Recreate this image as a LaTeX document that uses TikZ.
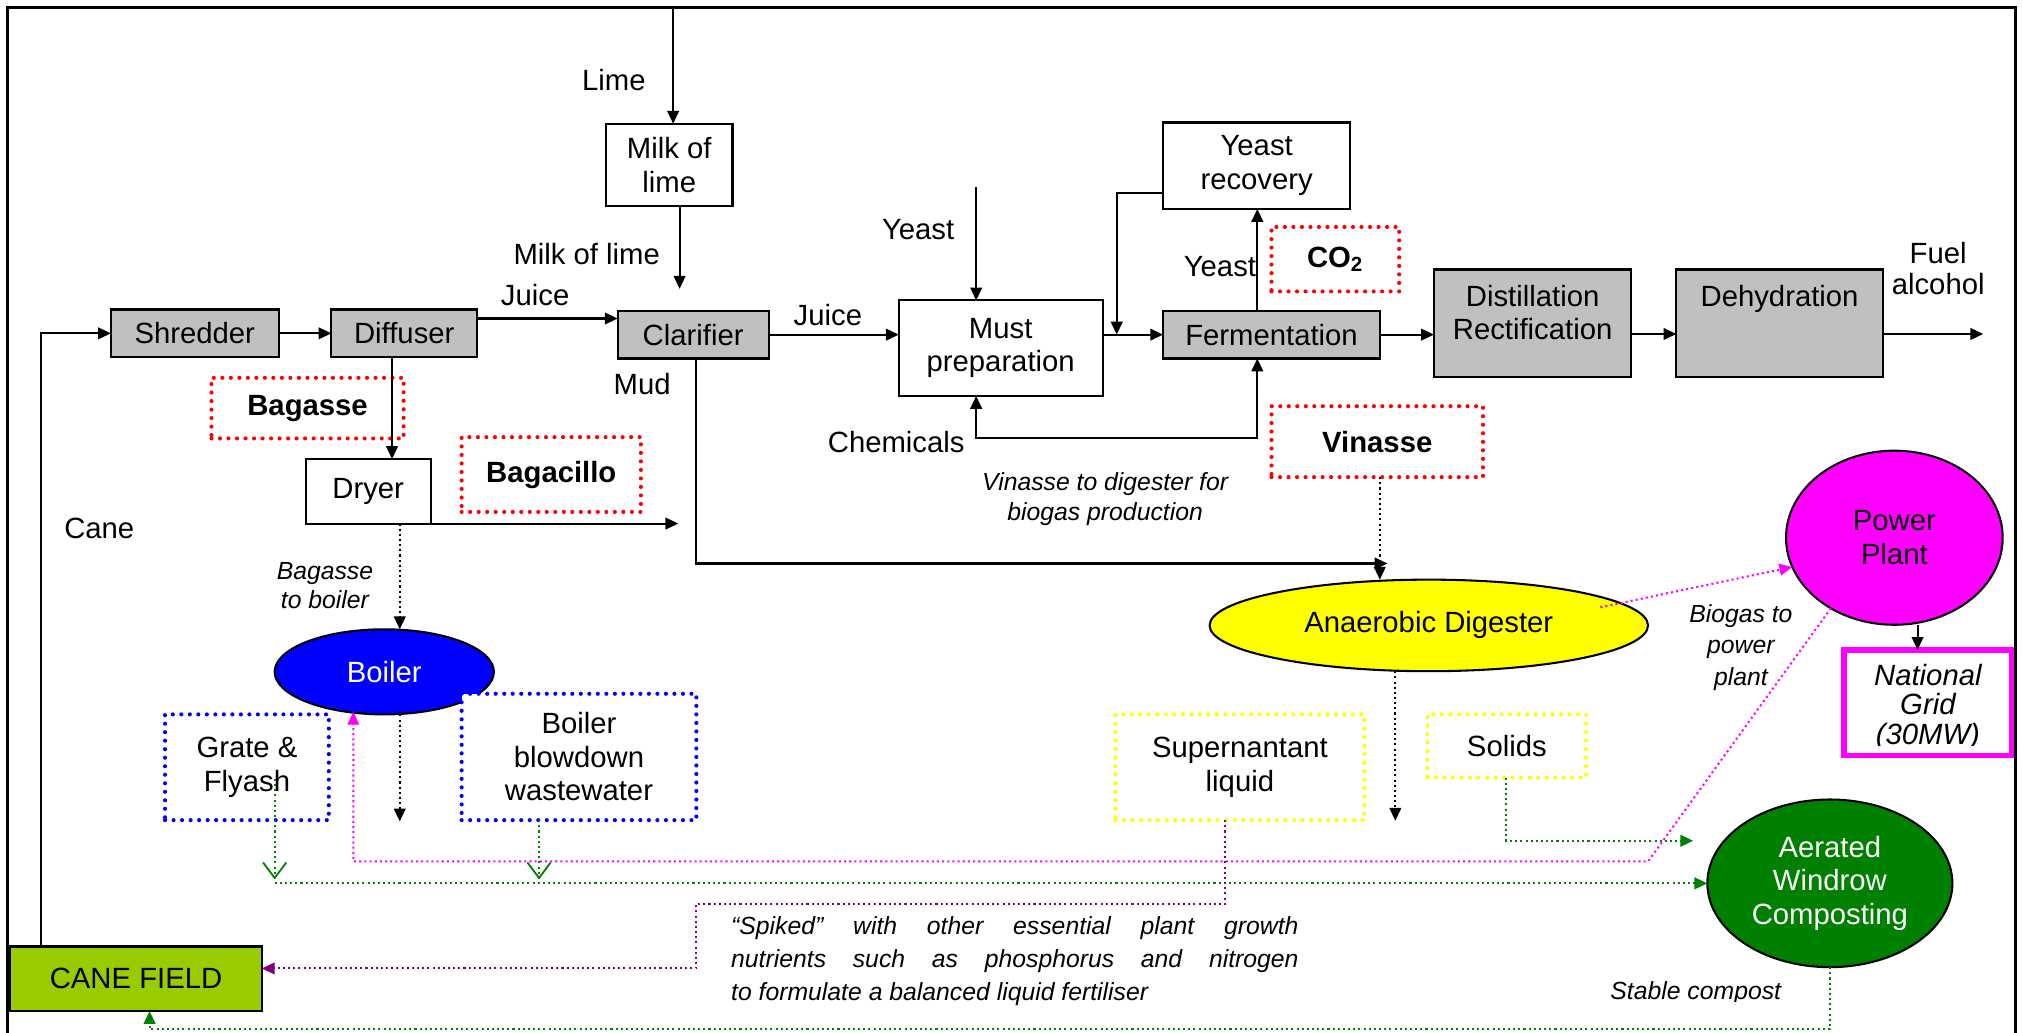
\documentclass[tikz,border=0pt]{standalone}
\usepackage{fontspec}
\setmainfont{Liberation Sans}
\usetikzlibrary{arrows.meta,shapes.geometric,calc}
\definecolor{boxgray}{HTML}{C0C0C0}
\definecolor{dkgreen}{HTML}{008000}
\definecolor{canegreen}{HTML}{99CC00}
\definecolor{magent}{HTML}{FF00FF}
\definecolor{purp}{HTML}{800080}
\definecolor{yell}{HTML}{FFFF00}
\definecolor{blu}{HTML}{0000FF}
\definecolor{rd}{HTML}{FF0000}
\begin{document}
\begin{tikzpicture}[x=0.5pt,y=-0.5pt,
  font=\fontsize{11.35}{13}\selectfont,
  every node/.style={inner sep=0pt, outer sep=0pt},
  box/.style={draw, line width=0.8pt, fill=white, align=center},
  gbox/.style={box, fill=boxgray},
  dotbox/.style={line width=1.6pt, dash pattern=on 0pt off 3.3pt, line cap=round, align=center},
  redbox/.style={dotbox, draw=rd, font=\fontsize{11.35}{13}\selectfont\bfseries},
  bluebox/.style={dotbox, draw=blu},
  yelbox/.style={dotbox, draw=yell},
  oval/.style={ellipse, draw, line width=0.8pt, align=center},
  tip/.style={-{Triangle[length=5pt,width=4.5pt]}},
  arr/.style={line width=0.8pt, tip},
  fine/.style={line width=0.8pt, dash pattern=on 0.8pt off 1.2pt},
  dotarr/.style={fine, tip},
  itl/.style={font=\fontsize{9.6}{11.5}\selectfont\itshape, align=center},
  lbl/.style={align=center}
]
\useasboundingbox (0,0) rectangle (1568,801);
\draw[line width=1pt] (6,830) -- (6,6) -- (1563,6) -- (1563,830);

% ---- process boxes
\node[box, minimum width=49pt, minimum height=32pt] (milk) at (519,128) {Milk of\\lime};
\node[gbox, minimum width=65pt, minimum height=18.5pt] (shred) at (151,258.5) {Shredder};
\node[gbox, minimum width=56.5pt, minimum height=18.5pt] (diff) at (313.5,258.5) {Diffuser};
\node[gbox, minimum width=58.5pt, minimum height=18.5pt] (clar) at (537.5,259.5) {Clarifier};
\node[box, minimum width=79pt, minimum height=37pt] (must) at (776,270) {Must\\preparation};
\node[box, minimum width=72.5pt, minimum height=33.5pt] (yrec) at (974.5,128.5) {Yeast\\recovery};
\node[gbox, minimum width=84pt, minimum height=18.5pt] (ferm) at (986,259.5) {Fermentation};
\node[gbox, minimum width=76.5pt, minimum height=41.5pt] (dist) at (1188.5,250.5) {};
\node[lbl, anchor=north] (distt) at ([yshift=-6pt]dist.north) {Distillation\\Rectification};
\node[gbox, minimum width=80pt, minimum height=41.5pt] (dehy) at (1380,250.5) {};
\node[lbl, anchor=north] (dehyt) at ([yshift=-6pt]dehy.north) {Dehydration};
\node[box, minimum width=48.5pt, minimum height=25pt] (dryer) at (285.5,381) {Dryer};

% ---- red dotted labels
\node[redbox, minimum width=74.5pt, minimum height=23.5pt] (bagasse) at (238.5,316.5) {Bagasse};
\node[redbox, minimum width=69.5pt, minimum height=29pt] (bagacillo) at (427.5,368) {Bagacillo};
\node[redbox, minimum width=49.5pt, minimum height=25pt] (co2) at (1035.5,201) {CO\textsubscript{2}};
\node[redbox, minimum width=82pt, minimum height=27.5pt] (vinasse) at (1068,342.5) {Vinasse};

% ---- ovals
\node[oval, fill=yell, minimum width=170pt, minimum height=35.5pt] (dig) at (1108,485) {Anaerobic Digester};
\node[oval, fill=blu, text=white, minimum width=85pt, minimum height=33pt] (boiler) at (298,521) {Boiler};
\node[oval, fill=magent, minimum width=84pt, minimum height=67.5pt] (power) at (1469,417) {Power\\Plant};
\node[oval, fill=dkgreen, text=white, minimum width=95pt, minimum height=65pt] (comp) at (1419,685) {Aerated\\Windrow\\Composting};

% ---- residue boxes
\node[bluebox, minimum width=63.5pt, minimum height=41pt] (grate) at (191.5,595) {Grate \&\\Flyash};
\node[bluebox, fill=white, minimum width=91pt, minimum height=49pt] (blow) at (449,587) {Boiler\\blowdown\\wastewater};
\node[yelbox, minimum width=96.5pt, minimum height=41pt] (super) at (961.5,595) {Supernantant\\liquid};
\node[yelbox, minimum width=61.5pt, minimum height=24.5pt] (solids) at (1168.5,578.5) {Solids};
\node[draw=magent, line width=2pt, fill=white, minimum width=65pt, minimum height=41pt] (grid) at (1495,545) {};
\begin{scope}
\clip ([xshift=1pt]grid.north west) rectangle ([xshift=-1pt]grid.east |- 0,578);
\node[align=center, anchor=north, font=\fontsize{11.35}{11.5}\selectfont\itshape] (gridt) at ([yshift=-5.5pt]grid.north) {National\\Grid\\(30MW)};
\end{scope}
\node[draw, line width=0.8pt, fill=canegreen, minimum width=97.5pt, minimum height=25pt] (cane) at (105.5,759) {CANE FIELD};

% ---- coordinates
\coordinate (limetop) at (522,6);
\coordinate (cx) at (32,258.5);
\coordinate (dx) at (304,0);
\coordinate (bx) at (310,0);
\coordinate (mx) at (540,437);
\coordinate (yeasttop) at (757,145);
\coordinate (ry) at (866,150);
\coordinate (fx) at (975,340);
\coordinate (chx) at (757,340);
\coordinate (vx) at (1070,0);
\coordinate (px) at (1487,0);
\coordinate (m1) at (1278,668);
\coordinate (m2) at (274,668);
\coordinate (g1) at (213,604);
\coordinate (g2) at (213,682);
\coordinate (g3) at (213,685);
\coordinate (w1) at (418,682);
\coordinate (s1) at (1168,652);
\coordinate (s2) at (1313,652);
\coordinate (p1) at (950,701);
\coordinate (p2) at (540,701);
\coordinate (p3) at (540,751);
\coordinate (c1) at (1419,798);
\coordinate (c2) at (116,798);

% ---- solid connectors
\draw[arr] (limetop) -- (limetop |- milk.north);
\draw[arr] ([xshift=4pt]milk.south) -- ++(0,64);
\draw[arr] (shred.east) -- (diff.west);
\draw[arr] ([yshift=5.75pt]diff.east) -- ([yshift=5.75pt]diff.east -| clar.west);
\draw[arr] (cane.north -| cx) -- (cx) -- (shred.west);
\draw[arr] (diff.south -| dx) -- (dryer.north -| dx);
\draw[arr] (dryer.south east) -- ++(192,0);
\draw[arr] (clar.south -| mx) -- (mx) -- ($(mx -| vx)+(6,0)$);
\draw[arr] (yeasttop) -- (yeasttop |- must.north);
\draw[arr] (clar.east) -- (clar.east -| must.west);
\draw[arr] (must.east |- ferm.west) -- (ferm.west);
\draw[arr] ([yshift=-10.75pt]yrec.west) -- (ry) -- (ry |- ferm.west);
\draw[arr] (ferm.north -| fx) -- (yrec.south -| fx);
\draw[line width=0.8pt, {Triangle[length=5pt,width=4.5pt]}-{Triangle[length=5pt,width=4.5pt]}] (must.south -| chx) -- (chx) -- (fx) -- (ferm.south -| fx);
\draw[arr] (ferm.east) -- (ferm.east -| dist.west);
\draw[arr] ([yshift=-4.25pt]dist.east) -- ([yshift=-4.25pt]dehy.west);
\draw[arr] ([yshift=-4.25pt]dehy.east) -- ++(78,0);
\draw[arr] (power.south -| px) -- (grid.north -| px);

% ---- dotted connectors
\draw[dotarr] (dryer.south -| bx) -- (boiler.north -| bx);
\draw[dotarr] (boiler.south -| bx) -- ++(0,83);
\draw[dotarr] (vinasse.south -| vx) -- (dig.north -| vx);
\draw[dotarr] ($(dig.south)+(-26,0)$) -- ++(0,116);
\draw[fine, draw=magent, -{Triangle[length=5pt,width=4.5pt]}] ($(dig.center)+(133,-14)$) -- (power.196);
\draw[fine, draw=magent, -{Triangle[length=5pt,width=4.5pt]}] (power.228) -- (m1) -- (m2) -- ($(m2 |- boiler.south)+(0,-2)$);
\draw[fine, draw=dkgreen, -{Straight Barb[length=6pt,width=9pt,line width=0.7pt]}] (g1) -- (g2);
\draw[fine, draw=dkgreen, -{Straight Barb[length=6pt,width=9pt,line width=0.7pt]}] (blow.south -| w1) -- (w1);
\draw[fine, draw=dkgreen, -{Triangle[length=5pt,width=4.5pt]}] (g3) -- (comp.west);
\draw[fine, draw=dkgreen, -{Triangle[length=5pt,width=4.5pt]}] (solids.south -| s1) -- (s1) -- (s2);
\draw[fine, draw=purp, -{Triangle[length=5pt,width=4.5pt]}] (super.south -| p1) -- (p1) -- (p2) -- (p3) -- (p3 -| cane.east);
\draw[fine, draw=dkgreen, -{Triangle[length=5pt,width=4.5pt]}] (comp.south) -- (c1) -- (c2) -- (c2 |- cane.south);

% ---- labels
\node[lbl] (llime) at (476,62) {Lime};
\node[lbl] (lmilk) at (455,197) {Milk of lime};
\node[lbl] (ljuice1) at (415,229) {Juice};
\node[lbl] (ljuice2) at (642,244) {Juice};
\node[lbl] (lmud) at (498,298) {Mud};
\node[lbl] (lcane) at (77,410) {Cane};
\node[lbl] (lyeast1) at (712,178) {Yeast};
\node[lbl] (lyeast2) at (946,207) {Yeast};
\node[lbl] (lchem) at (695,343) {Chemicals};
\node[lbl, font=\fontsize{11.35}{12}\selectfont] (lfuel) at (1503,208) {Fuel\\alcohol};
\node[itl] (lbtb) at (252,454) {Bagasse\\to boiler};
\node[itl] (lvin) at (857,387) {Vinasse to digester for\\biogas production};
\node[itl, font=\fontsize{9.6}{12.25}\selectfont\itshape] (lbio) at (1350,502) {Biogas to\\power\\plant};
\begin{scope}
\clip (1200,740) rectangle (1400,777);
\node[itl] (lstable) at (1315,770) {Stable compost};
\end{scope}
\node[anchor=north west, align=left, font=\fontsize{9.6}{12.75}\selectfont\itshape] (lspike) at (567,711)
  {\makebox[220pt][s]{“Spiked” with other essential plant growth}\\
   \makebox[220pt][s]{nutrients such as phosphorus and nitrogen}\\
   to formulate a balanced liquid fertiliser};
\end{tikzpicture}
\end{document}
